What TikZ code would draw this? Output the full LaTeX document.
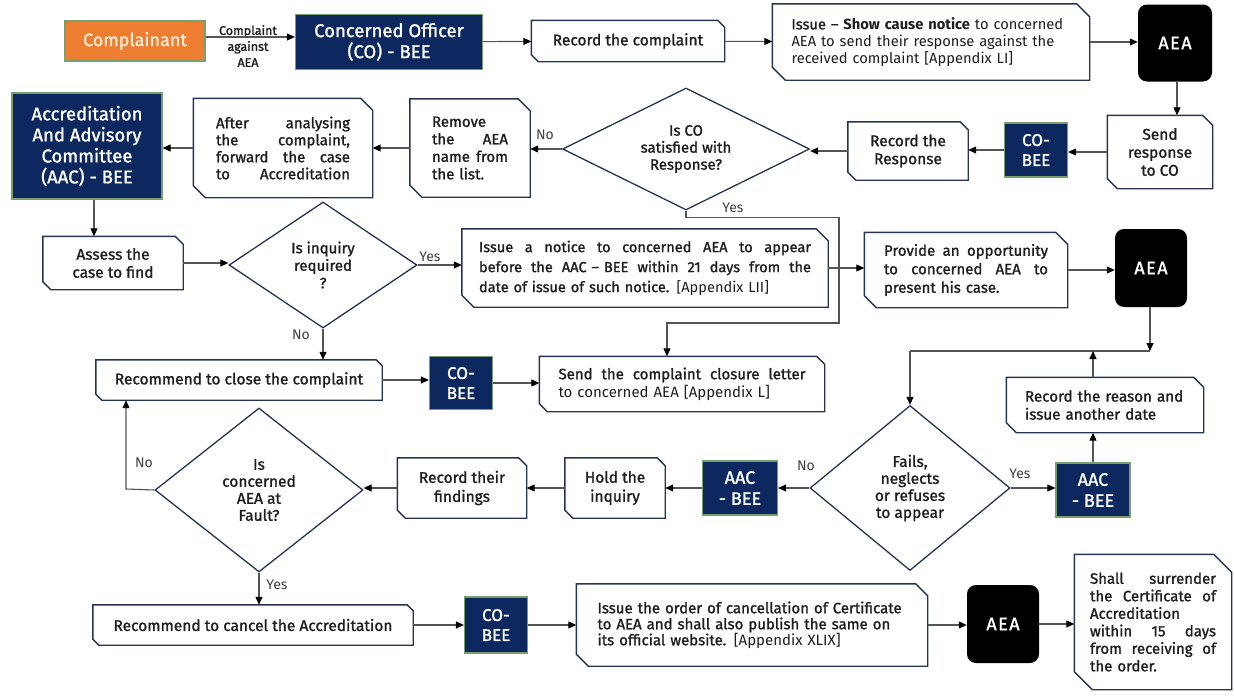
\documentclass[tikz,border=0pt]{standalone}
\usepackage{fontspec}
\setmainfont{Fira Sans}[UprightFeatures={FakeBold=1.3}]
\newfontfamily\lightfont{Fira Sans}
\usetikzlibrary{shapes.geometric,arrows.meta,calc}
\definecolor{navy}{RGB}{12,40,94}
\definecolor{edgeg}{RGB}{120,160,110}
\definecolor{outl}{RGB}{38,52,82}
\definecolor{orng}{RGB}{236,125,49}
\definecolor{cream}{RGB}{252,236,212}
\definecolor{txt}{RGB}{30,30,30}
\definecolor{lin}{RGB}{85,85,85}
\newcommand\fs[2]{\fontsize{#1}{#2}\selectfont}
\newcommand\aeatxt{A\kern1.5pt E\kern1.5pt A}
\tikzset{
  base/.style={inner sep=0pt, text=txt},
  sbox/.style={base, align=center, font=\fs{15}{18}},
  lbox/.style={base, align=left, font=\fs{15}{18}},
  navybox/.style={base, fill=navy, draw=edgeg, line width=1.2pt, text=white, align=center, font=\fs{18}{21}},
  blackbox/.style={base, fill=black, rounded corners=9pt, text=white, align=center, font=\fs{18}{21}},
  dia/.style={base, diamond, draw=outl, line width=1.3pt, align=center, font=\fs{15}{17}},
  lbl/.style={base, font=\lightfont\fs{14}{16}, text=txt!85},
  arr/.style={draw=lin, line width=1.1pt, -{Triangle[length=8pt,width=7pt,color=black]}},
  ln/.style={draw=lin, line width=1.1pt},
  snipline/.style={draw=outl, line width=1.4pt, line join=miter}
}
\begin{document}
\begin{tikzpicture}[x=1pt,y=-1pt]
\fill[white] (0,0) rectangle (1234,696);
\useasboundingbox (0,0) rectangle (1234,696);

% ---------- row 1
\node[base, fill=orng, draw=edgeg, line width=1.2pt, text=cream, font=\fs{18}{21}, minimum width=140, minimum height=40] (comp) at (135,41) {Complainant};
\node[base, align=center, font=\fs{12.5}{16}] (lcomp) at (248,46) {Complaint\\against\\AEA};
\node[navybox, font=\fs{18.5}{21}, minimum width=187, minimum height=55] (co) at (389,42) {Concerned Officer\\(CO) - BEE};
\node[sbox, font=\fs{15.5}{18}, minimum width=193, minimum height=41] (rec) at (628,41) {Record the complaint};
\node[lbox, font=\fs{14.7}{17}, text width=279, minimum width=317, minimum height=76] (issue) at (931,42)
  {Issue – {\lightfont\bfseries Show cause notice} {\lightfont to concerned}\\{\lightfont AEA to send their response against the}\\{\lightfont received complaint [Appendix LI]}};
\node[blackbox, minimum width=74, minimum height=77] (aea1) at (1175,43) {\aeatxt};

% ---------- row 2
\node[sbox, font=\fs{15.5}{18}, minimum width=105, minimum height=73] (send) at (1160,152) {Send\\response\\to CO};
\node[navybox, font=\fs{17}{20}, minimum width=63, minimum height=54] (cobee1) at (1036,150) {CO-\\BEE};
\node[sbox, font=\fs{15.5}{18}, minimum width=120, minimum height=58] (recresp) at (908,151) {Record the\\Response};
\node[dia, minimum width=247, minimum height=122, aspect=2] (dia1) at (686,149) {Is CO\\satisfied with\\Response?};
\node[lbox, font=\fs{15}{17.5}, text width=76, minimum width=120, minimum height=98] (remove) at (470,148)
  {Remove\\the\hfill AEA\\name\hfill from\\the list.};
\node[lbox, font=\fs{15}{17}, text width=134, minimum width=179, minimum height=99] (after) at (283,148)
  {After\hfill analysing\\the\hfill complaint,\\forward\hfill the\hfill case\\to\hfill Accreditation};
\node[navybox, font=\fs{18.5}{21}, minimum width=150, minimum height=106] (aac) at (87,146)
  {Accreditation\\And Advisory\\Committee\\(AAC) - BEE};

% ---------- row 3
\node[sbox, font=\fs{15.5}{18}, minimum width=140, minimum height=53] (assess) at (113,263) {Assess the\\case to find};
\node[dia, font=\fs{15}{17.5}, minimum width=188, minimum height=126, aspect=1.5] (dia2) at (323,265) {Is inquiry\\required\\?};
\node[lbox, font=\fs{14.6}{20}, text width=332, minimum width=366, minimum height=78] (notice) at (645,268)
  {Issue\hfill a\hfill notice\hfill to\hfill concerned\hfill AEA\hfill to\hfill appear\\before\hfill the\hfill AAC – BEE\hfill within\hfill 21\hfill days\hfill from\hfill the\\date of issue of such notice. {\lightfont [Appendix LII]}};
\node[lbox, font=\fs{15}{18.5}, text width=164, minimum width=203, minimum height=75] (provide) at (966,270)
  {Provide\hfill an\hfill opportunity\\to\hfill concerned\hfill AEA\hfill to\\present his case.};
\node[blackbox, minimum width=72, minimum height=78] (aea2) at (1151,268) {\aeatxt};

\node[sbox, font=\fs{15.5}{18}, minimum width=286, minimum height=40] (close) at (239,380) {Recommend to close the complaint};
\node[navybox, font=\fs{17}{20}, minimum width=63, minimum height=53] (cobee2) at (461,383) {CO-\\BEE};
\node[lbox, font=\fs{15}{18}, text width=247, minimum width=285, minimum height=55] (closure) at (682,384)
  {Send\hfill the\hfill complaint\hfill closure\hfill letter\\{\lightfont to concerned AEA [Appendix L]}};
\node[lbox, font=\fs{15.2}{18}, text width=160, minimum width=197, minimum height=55] (reason) at (1105,405)
  {Record the reason and\\issue another date};

% ---------- row 4
\node[dia, font=\fs{15.5}{17}, minimum width=200, minimum height=165, aspect=1.2] (dia3) at (910,488) {Fails,\\neglects\\or refuses\\to appear};
\node[navybox, minimum width=74, minimum height=54] (aac3) at (1093,490) {AAC\\- BEE};
\node[navybox, minimum width=75, minimum height=54] (aac2) at (740,488) {AAC\\- BEE};
\node[sbox, font=\fs{15.5}{19}, minimum width=100, minimum height=60] (hold) at (615,488) {Hold the\\inquiry};
\node[sbox, font=\fs{15.5}{19}, minimum width=129, minimum height=60] (findings) at (462,488) {Record their\\findings};
\node[dia, font=\fs{15.5}{17}, minimum width=208, minimum height=164, aspect=1.27] (dia4) at (259,490) {Is\\concerned\\AEA at\\Fault?};

% ---------- row 5
\node[sbox, font=\fs{15.5}{18}, minimum width=320, minimum height=40] (cancel) at (253,625) {Recommend to cancel the Accreditation};
\node[navybox, font=\fs{17}{20}, minimum width=63, minimum height=56] (cobee3) at (496,625) {CO-\\BEE};
\node[lbox, font=\fs{15}{16}, text width=309, minimum width=351, minimum height=82] (order) at (752,625)
  {Issue the order of cancellation of Certificate\\to AEA and shall also publish the same on\\its official website. {\lightfont [Appendix XLIX]}};
\node[blackbox, minimum width=72, minimum height=78] (aea3) at (1003,624) {\aeatxt};
\node[lbox, font=\fs{15}{17.5}, text width=126, minimum width=157, minimum height=135] (shall) at (1153,622)
  {Shall\hfill surrender\\the\hfill Certificate\hfill of\\Accreditation\\within\hfill 15\hfill days\\from\hfill receiving\hfill of\\the order.};

% ---------- snipped outlines
\foreach \n/\c in {rec/7, issue/13, send/10, recresp/8, remove/12, after/12, assess/8, notice/12,
  provide/12, close/6, closure/8, reason/10, hold/8, findings/8, cancel/6, order/12, shall/18}{
  \draw[snipline] ([xshift=-\c]\n.north east) -- ([yshift=-\c]\n.north east) -- (\n.south east)
    -- ([xshift=\c]\n.south west) -- ([yshift=\c]\n.south west) -- (\n.north west) -- cycle;
}

% ---------- coordinates
\coordinate (yr) at (839,323);
\coordinate (yl) at (667,323);
\coordinate (jr) at (1150,351);
\coordinate (jl) at (910,351);
\coordinate (nl) at (126,489);

% ---------- connectors
\draw[arr] ([yshift=4]comp.east) -- ([yshift=4]comp.east -| co.west);
\draw[arr] (co) -- (rec);
\draw[arr] (rec) -- (issue);
\draw[arr] (issue) -- (issue -| aea1.west);
\draw[arr] ([xshift=2]aea1.south) -- ([xshift=2]aea1.south |- send.north);
\draw[arr] (send.west) -- (send.west -| cobee1.east);
\draw[arr] (cobee1.west) -- (cobee1.west -| recresp.east);
\draw[arr] (recresp.west) -- (recresp.west -| dia1.east);
\draw[arr] (dia1.west) -- (dia1.west -| remove.east);
\draw[arr] (remove.west) -- (remove.west -| after.east);
\draw[arr] (after.west) -- (after.west -| aac.east);
\draw[arr] ([xshift=7]aac.south) -- ([xshift=7]aac.south |- assess.north);
\draw[arr] (assess.east) -- (assess.east -| dia2.west);
\draw[arr] (dia2.east) -- (dia2.east -| notice.west);
\draw[arr] (dia2.south) -- (dia2.south |- close.north);
\draw[arr] (dia1.south) -- ++(0,7) -| (yr) -- (yl) -- (yl |- closure.north);
\draw[arr] (notice.east) -- (notice.east -| provide.west);
\draw[arr] (provide.east) -- (provide.east -| aea2.west);
\draw[arr] (aea2.south -| jr) -- (jr);
\draw[ln] (jr) -- (jl);
\draw[arr] (jl) -- (dia3.north);
\draw[arr] (reason.north -| aac3.north) -- (aac3.north |- jr);
\draw[arr] (dia3.east) -- (dia3.east -| aac3.west);
\draw[arr] (aac3.north) -- (aac3.north |- reason.south);
\draw[arr] (dia3.west) -- (dia3.west -| aac2.east);
\draw[arr] (aac2.west) -- (aac2.west -| hold.east);
\draw[arr] (hold.west) -- (hold.west -| findings.east);
\draw[arr] (findings.west) -- (findings.west -| dia4.east);
\draw[arr] (dia4.west) -- (nl) -- (nl |- close.south);
\draw[arr] (close.east) -- (close.east -| cobee2.west);
\draw[arr] (cobee2.east) -- (cobee2.east -| closure.west);
\draw[arr] (dia4.south) -- (dia4.south |- cancel.north);
\draw[arr] (cancel.east) -- (cancel.east -| cobee3.west);
\draw[arr] (cobee3.east) -- (cobee3.east -| order.west);
\draw[arr] (order.east) -- (order.east -| aea3.west);
\draw[arr] (aea3.east) -- (aea3.east -| shall.west);

% ---------- labels
\node[lbl] (l1) at (545,135) {No};
\node[lbl] (l2) at (733,208) {Yes};
\node[lbl] (l3) at (430,257) {Yes};
\node[lbl] (l4) at (301,335) {No};
\node[lbl] (l5) at (806,466) {No};
\node[lbl] (l6) at (1020,474) {Yes};
\node[lbl] (l7) at (144,463) {No};
\node[lbl] (l8) at (277,585) {Yes};
\end{tikzpicture}
\end{document}
